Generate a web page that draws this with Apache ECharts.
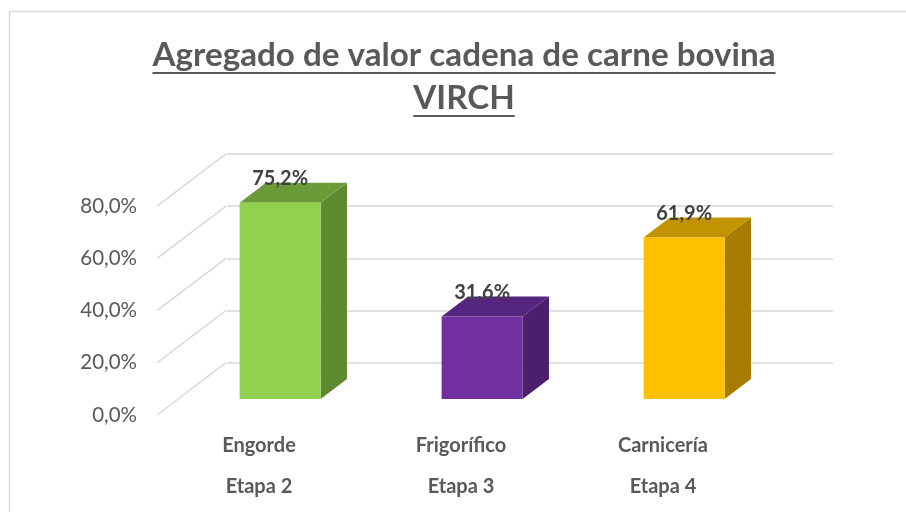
<!DOCTYPE html>
<html><head><meta charset="utf-8">
<script src="https://cdn.jsdelivr.net/npm/echarts@6/dist/echarts.min.js"></script>
<style>html,body{margin:0;padding:0;background:#fff}#c{width:906px;height:512px}</style>
</head><body><div id="c"></div>
<script>
// ---- data ----
const categories = ['Engorde', 'Frigorífico', 'Carnicería'];
const stages = ['Etapa 2', 'Etapa 3', 'Etapa 4'];
const values = [75.2, 31.6, 61.9];
const yTicks = [0, 20, 40, 60, 80];
const titleLines = ['Agregado de valor cadena de carne bovina', 'VIRCH'];

// ---- style ----
const frontColors = ['#92d050', '#7030a0', '#ffc000'];
const sideColors = ['#5d8a2f', '#4a1f6c', '#a67d00'];
const topColors = ['#6b9b38', '#56257f', '#c29300'];
const GRID_COLOR = '#d9d9d9';
const TEXT_COLOR = '#595959';
const FONT = 'Lato';

const FRONT = {left: 158, top: 206.2, width: 606, height: 208.8};
const DEPTH = {x: 69, y: -52.3};
const BAR_FRONT = 0.306, BAR_BACK = 0.688;
const BAR_W = 81;
function shifted(f) {
  return {left: FRONT.left + DEPTH.x * f, top: FRONT.top + DEPTH.y * f,
          width: FRONT.width, height: FRONT.height};
}
function pct(v) { return v.toFixed(1).replace('.', ',') + '%'; }

// title sizing
const ctx = document.createElement('canvas').getContext('2d');
function measure(txt, size) { ctx.font = 'bold ' + size + 'px ' + FONT; return ctx.measureText(txt).width; }
const TITLE_SIZE = Math.round(28 * 623 / measure(titleLines[0], 28) * 10) / 10;
const TITLE_CX = 464;
const w1 = measure(titleLines[0], TITLE_SIZE), w2 = measure(titleLines[1], TITLE_SIZE);

const chart = echarts.init(document.getElementById('c'), null, {renderer: 'canvas'});
const dBar = {x: DEPTH.x * (BAR_BACK - BAR_FRONT), y: DEPTH.y * (BAR_BACK - BAR_FRONT)};

chart.setOption({
  animation: false,
  backgroundColor: '#fff',
  title: {
    text: titleLines.join('\n'),
    left: TITLE_CX, top: 34, textAlign: 'center', padding: 0,
    textStyle: {fontFamily: FONT, fontWeight: 'bold', fontSize: TITLE_SIZE, color: TEXT_COLOR, lineHeight: 43}
  },
  graphic: [
    {type: 'rect', shape: {x: 9.5, y: 11.5, width: 1000, height: 1000}, style: {fill: null, stroke: GRID_COLOR, lineWidth: 1.5}, silent: true},
    {type: 'line', shape: {x1: TITLE_CX - w1 / 2, y1: 73, x2: TITLE_CX + w1 / 2, y2: 73}, style: {stroke: TEXT_COLOR, lineWidth: 2}},
    {type: 'line', shape: {x1: TITLE_CX - w2 / 2, y1: 116, x2: TITLE_CX + w2 / 2, y2: 116}, style: {stroke: TEXT_COLOR, lineWidth: 2}}
  ],
  grid: [Object.assign({}, shifted(0)), Object.assign({}, shifted(BAR_FRONT)), Object.assign({}, shifted(1))],
  xAxis: [
    {type: 'category', gridIndex: 0, data: categories,
     axisLine: {show: false}, axisTick: {show: false},
     axisLabel: {margin: 10, formatter: (v, i) => '{a|' + v + '}\n{a|' + stages[i] + '}',
       rich: {a: {fontFamily: FONT, fontWeight: 'bold', fontSize: 20, color: TEXT_COLOR, lineHeight: 41}}}},
    {type: 'category', gridIndex: 1, data: categories, show: false},
    {type: 'category', gridIndex: 2, data: categories, show: false}
  ],
  yAxis: [
    {type: 'value', gridIndex: 0, min: 0, max: 80, interval: 20,
     axisLine: {show: false}, axisTick: {show: false}, splitLine: {show: false},
     axisLabel: {margin: 21, formatter: pct, fontFamily: FONT, fontSize: 20.5, color: TEXT_COLOR}},
    {type: 'value', gridIndex: 1, min: 0, max: 80, interval: 20, show: false, splitLine: {show: false}},
    {type: 'value', gridIndex: 2, min: 0, max: 80, interval: 20,
     axisLine: {show: false}, axisTick: {show: false}, axisLabel: {show: false},
     splitLine: {show: true, lineStyle: {color: GRID_COLOR, width: 1.5}}}
  ],
  series: [
    { // left wall diagonals
      type: 'custom', xAxisIndex: 0, yAxisIndex: 0, z: 1,
      data: yTicks.map(v => [0, v]),
      renderItem: (params, api) => {
        const p = api.coord([0, api.value(1)]);
        const x0 = params.coordSys.x - 1;
        return {type: 'line', shape: {x1: x0, y1: p[1], x2: x0 + DEPTH.x, y2: p[1] + DEPTH.y},
                style: {stroke: GRID_COLOR, lineWidth: 1.5}};
      }
    },
    { // bar side and top faces
      type: 'custom', xAxisIndex: 1, yAxisIndex: 1, z: 2,
      data: values.map((v, i) => [i, v]),
      renderItem: (params, api) => {
        const i = api.value(0);
        const p0 = api.coord([i, 0]);
        const p1 = api.coord([i, api.value(1)]);
        const l = p0[0] - BAR_W / 2, r = p0[0] + BAR_W / 2;
        return {type: 'group', children: [
          {type: 'polygon', shape: {points: [[r, p1[1]], [r + dBar.x, p1[1] + dBar.y], [r + dBar.x, p0[1] + dBar.y], [r, p0[1]]]},
           style: {fill: sideColors[i]}},
          {type: 'polygon', shape: {points: [[l, p1[1]], [r, p1[1]], [r + dBar.x, p1[1] + dBar.y], [l + dBar.x, p1[1] + dBar.y]]},
           style: {fill: topColors[i]}}
        ]};
      }
    },
    { // bar front faces
      type: 'bar', xAxisIndex: 1, yAxisIndex: 1, z: 3, barWidth: BAR_W,
      data: values.map((v, i) => ({value: v, itemStyle: {color: frontColors[i]}})),
      label: {show: true, position: 'top', distance: 14, formatter: p => pct(p.value),
              fontFamily: FONT, fontWeight: 'bold', fontSize: 20, color: '#404040'}
    }
  ]
});
</script>
</body></html>
